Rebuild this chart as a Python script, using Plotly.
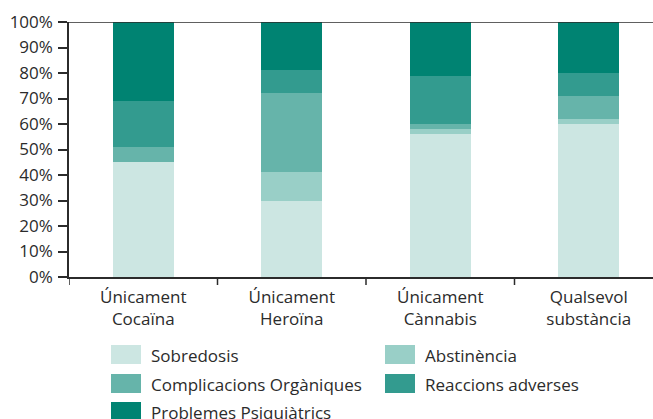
import plotly.graph_objects as go

# Share of emergency episodes by type, per substance group (%)
categories = ["Únicament<br>Cocaïna", "Únicament<br>Heroïna", "Únicament<br>Cànnabis", "Qualsevol<br>substància"]
series_names = ["Sobredosis", "Abstinència", "Complicacions Orgàniques", "Reaccions adverses", "Problemes Psiquiàtrics"]
sobredosis = [45, 30, 56, 60]
abstinencia = [0, 11, 2, 2]
complicacions = [6, 31, 2, 9]
reaccions = [18, 9, 19, 9]
psiquiatrics = [31, 19, 21, 20]
y_ticks = [0, 10, 20, 30, 40, 50, 60, 70, 80, 90, 100]
y_tick_labels = [f"{v}%" for v in y_ticks]

colors = ["#cce6e2", "#99cfc7", "#66b4aa", "#339b8f", "#008372"]
series_values = [sobredosis, abstinencia, complicacions, reaccions, psiquiatrics]

FONT = "Open Sans"
TEXT = "#2b2b2b"
AXIS = "#2b2b2b"

W, H = 653, 419
L, R, T, B = 69, 0, 22, 142
pw, ph = W - L - R, H - T - B

fig = go.Figure()
for name, vals, col in zip(series_names, series_values, colors):
    fig.add_trace(go.Bar(x=list(range(len(categories))), y=vals, name=name,
                         marker=dict(color=col, line=dict(width=0)),
                         width=0.41, showlegend=False))

cat_w = 148.5
fig.update_layout(
    width=W, height=H, barmode="stack",
    margin=dict(l=L, r=R, t=T, b=B, pad=0),
    paper_bgcolor="white", plot_bgcolor="white",
    font=dict(family=FONT, size=17, color=TEXT),
    xaxis=dict(
        tickmode="array", tickvals=list(range(len(categories))), ticktext=categories,
        range=[-0.5, -0.5 + pw / cat_w],
        showline=True, linecolor=AXIS, linewidth=1.5,
        ticks="", showgrid=False, zeroline=False, tickfont=dict(size=17),
        ticklabelstandoff=4,
    ),
    yaxis=dict(
        tickmode="array", tickvals=y_ticks, ticktext=y_tick_labels,
        range=[0, 100],
        showline=True, linecolor=AXIS, linewidth=1.5,
        ticks="outside", ticklen=9, tickwidth=1.5, tickcolor=AXIS,
        showgrid=False, zeroline=False, tickfont=dict(size=17),
        ticklabelstandoff=2,
    ),
)

# boundary ticks between categories
for i in range(len(categories)):
    fig.add_shape(type="line", xref="x", yref="paper", x0=i - 0.5, x1=i - 0.5,
                  y0=0, y1=-8 / ph, line=dict(color=AXIS, width=1.5))

# top border at 100%
fig.add_shape(type="line", xref="paper", yref="y", x0=0, x1=1, y0=100, y1=100,
              line=dict(color=AXIS, width=1.5))

# legend: two columns, three rows
def px_x(p):
    return (p - L) / pw

def px_y(p):
    return (H - B - p) / ph

col_x = [111, 385]
row_y = [345, 374, 402]
for k, (name, col) in enumerate(zip(series_names, colors)):
    r, c = divmod(k, 2)
    x0, y0 = col_x[c], row_y[r]
    fig.add_shape(type="rect", xref="paper", yref="paper",
                  x0=px_x(x0), x1=px_x(x0 + 30), y0=px_y(y0), y1=px_y(y0 + 19),
                  fillcolor=col, line=dict(width=0))
    fig.add_annotation(xref="paper", yref="paper", x=px_x(x0 + 38), y=px_y(y0 + 10),
                       text=name, showarrow=False, xanchor="left", yanchor="middle",
                       font=dict(family=FONT, size=17, color=TEXT))

fig.write_html("out.html")
